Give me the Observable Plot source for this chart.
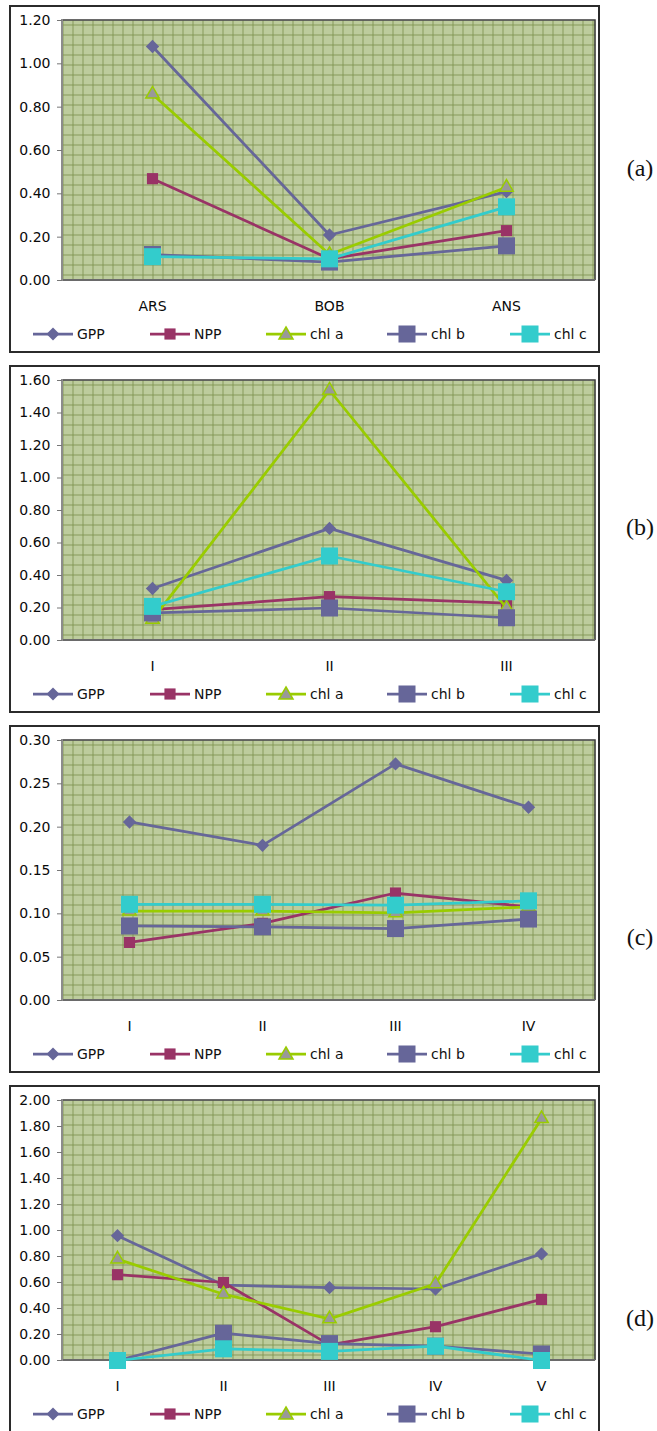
<!DOCTYPE html>
<html>
<head>
<meta charset="utf-8">
<script src="https://cdn.jsdelivr.net/npm/d3@7"></script>
<script src="https://cdn.jsdelivr.net/npm/@observablehq/plot@0.6"></script>
<style>
  html, body { margin: 0; padding: 0; background: #fff; }
  #page { position: relative; width: 657px; height: 1431px; overflow: hidden; background: #fff;
          font-family: "DejaVu Sans", Verdana, sans-serif; color: #111; }
  .box { position: absolute; left: 9px; width: 591px; height: 348px; box-sizing: border-box;
         border: 2px solid #2b2b2b; background: #fff; }
  .chart { position: absolute; left: 0; }
  .legend { position: absolute; left: 0; width: 600px; height: 20px; }
  .legend .item { position: absolute; top: 0; height: 20px; display: flex; align-items: center;
                  font-size: 14px; white-space: nowrap; }
  .legend svg { display: block; margin-right: 4px; }
  .tag { position: absolute; left: 620px; width: 40px; text-align: center;
         font-family: "Liberation Serif", "Times New Roman", serif; font-size: 24px; line-height: 24px; color: #111; }
</style>
</head>
<body>
<svg width="0" height="0" style="position:absolute">
  <defs>
    <pattern id="dither" width="2" height="2" patternUnits="userSpaceOnUse">
      <rect width="2" height="2" fill="#c6d3a7"/>
      <rect width="1" height="1" fill="#b4c493"/>
      <rect x="1" y="1" width="1" height="1" fill="#b4c493"/>
    </pattern>
    <pattern id="excelGrid" x="2" y="4" width="10" height="10" patternUnits="userSpaceOnUse">
      <rect width="10" height="10" fill="url(#dither)"/>
      <path d="M0 0.5H10M0.5 0V10" stroke="#879b5a" stroke-width="1"/>
    </pattern>
  </defs>
</svg>
<div id="page"></div>
<script>
// Series shown in every panel
const seriesNames = ["GPP", "NPP", "chl a", "chl b", "chl c"];

// (a) regions
const catsA = ["ARS", "BOB", "ANS"];
const gppA  = [1.08, 0.21, 0.41];
const nppA  = [0.47, 0.10, 0.23];
const chlaA = [0.86, 0.12, 0.43];
const chlbA = [0.12, 0.085, 0.16];
const chlcA = [0.11, 0.10, 0.34];

// (b) stations
const catsB = ["I", "II", "III"];
const gppB  = [0.32, 0.69, 0.37];
const nppB  = [0.19, 0.27, 0.23];
const chlaB = [0.13, 1.54, 0.20];
const chlbB = [0.17, 0.20, 0.14];
const chlcB = [0.21, 0.52, 0.30];

// (c) stations
const catsC = ["I", "II", "III", "IV"];
const gppC  = [0.206, 0.179, 0.273, 0.223];
const nppC  = [0.067, 0.089, 0.124, 0.108];
const chlaC = [0.103, 0.103, 0.101, 0.108];
const chlbC = [0.086, 0.085, 0.083, 0.094];
const chlcC = [0.111, 0.111, 0.110, 0.115];

// (d) stations
const catsD = ["I", "II", "III", "IV", "V"];
const gppD  = [0.96, 0.58, 0.56, 0.55, 0.82];
const nppD  = [0.66, 0.60, 0.12, 0.26, 0.47];
const chlaD = [0.78, 0.51, 0.32, 0.59, 1.86];
const chlbD = [0.00, 0.21, 0.13, 0.11, 0.05];
const chlcD = [0.00, 0.09, 0.07, 0.11, 0.00];

// y-axis extents and tick steps
const yMaxes = [1.2, 1.6, 0.3, 2.0];
const ySteps = [0.2, 0.2, 0.05, 0.2];
const panelTags = ["(a)", "(b)", "(c)", "(d)"];

// Line/marker styling per series
const styles = [
  {color: "#666699", symbol: "diamond2", r: 6.0, fill: "#666699", stroke: "none"},
  {color: "#993366", symbol: "square",   r: 6.3, fill: "#993366", stroke: "none"},
  {color: "#99cc00", symbol: "triangle", r: 5.0, fill: "#999999", stroke: "#99cc00"},
  {color: "#666699", symbol: "square",   r: 9.6, fill: "#666699", stroke: "none"},
  {color: "#33cccc", symbol: "square",   r: 9.6, fill: "#33cccc", stroke: "none"}
];

const panels = [
  {cats: catsA, values: [gppA, nppA, chlaA, chlbA, chlcA]},
  {cats: catsB, values: [gppB, nppB, chlaB, chlbB, chlcB]},
  {cats: catsC, values: [gppC, nppC, chlaC, chlbC, chlcC]},
  {cats: catsD, values: [gppD, nppD, chlaD, chlbD, chlcD]}
];

const page = document.getElementById("page");
const plotTop0 = 19.5, pitch = 360, plotH = 260, mTop = 10, mBottom = 40;
const tagY = [168, 527, 937, 1318];
const legendX = [33, 150, 266, 387, 510];

// Plot-area border: dark top/right edges, gray value axis, darker category axis
function plotBorder(...args) {
  const dims = args.find(a => a && a.marginLeft !== undefined && a.width !== undefined);
  const x0 = dims.marginLeft, x1 = dims.width - dims.marginRight;
  const y0 = dims.marginTop, y1 = dims.height - dims.marginBottom;
  const g = d3.create("svg:g").attr("fill", "none");
  g.append("path").attr("d", `M${x0},${y0}H${x1}V${y1}`).attr("stroke", "#3a3a3a").attr("stroke-width", 1.5);
  g.append("line").attr("x1", x0).attr("x2", x1).attr("y1", y1).attr("y2", y1)
    .attr("stroke", "#6a6a6a").attr("stroke-width", 2);
  g.append("line").attr("x1", x0).attr("x2", x0).attr("y1", y0 - 1).attr("y2", y1 + 1)
    .attr("stroke", "#8c8c8c").attr("stroke-width", 2);
  return g.node();
}

function swatch(st) {
  const w = 40, h = 20, cx = 20, cy = 10;
  let marker = "";
  if (st.symbol === "diamond2") {
    marker = `<path d="M${cx},${cy - 6.5}L${cx + 6.5},${cy}L${cx},${cy + 6.5}L${cx - 6.5},${cy}Z" fill="${st.fill}"/>`;
  } else if (st.symbol === "triangle") {
    marker = `<path d="M${cx},${cy - 7}L${cx + 7},${cy + 5}L${cx - 7},${cy + 5}Z" fill="${st.fill}" stroke="${st.stroke}" stroke-width="1.5"/>`;
  } else {
    const s = st.r * Math.sqrt(Math.PI);
    marker = `<rect x="${cx - s / 2}" y="${cy - s / 2}" width="${s}" height="${s}" fill="${st.fill}"/>`;
  }
  return `<svg width="${w}" height="${h}"><line x1="0" x2="${w}" y1="${cy}" y2="${cy}" stroke="${st.color}" stroke-width="2.75"/>${marker}</svg>`;
}

panels.forEach((p, k) => {
  const plotTop = plotTop0 + k * pitch;

  const box = document.createElement("div");
  box.className = "box";
  box.style.top = (plotTop - 14.5) + "px";
  page.appendChild(box);

  const data = seriesNames.flatMap((name, s) =>
    p.cats.map((c, i) => ({series: name, cat: c, value: p.values[s][i]})));

  const ymax = yMaxes[k], step = ySteps[k];
  const ticks = d3.range(0, ymax + step / 2, step);

  const chart = Plot.plot({
    width: 600,
    height: mTop + plotH + mBottom,
    marginLeft: 62,
    marginRight: 5,
    marginTop: mTop,
    marginBottom: mBottom,
    style: {fontFamily: "DejaVu Sans, Verdana, sans-serif", fontSize: "14px", color: "#0a0a0a",
            background: "transparent", overflow: "visible"},
    x: {type: "point", domain: p.cats, padding: 0.5, label: null},
    y: {domain: [0, ymax], nice: false, label: null},
    marks: [
      Plot.frame({fill: "url(#excelGrid)"}),
      plotBorder,
      Plot.axisY({ticks, tickFormat: d3.format(".2f"), tickSize: 5, tickPadding: 7, stroke: "#777", label: null}),
      Plot.axisX({tickSize: 0, tickPadding: 21, label: null}),
      ...seriesNames.flatMap((name, s) => {
        const st = styles[s];
        const rows = data.filter(d => d.series === name);
        return [
          Plot.line(rows, {x: "cat", y: "value", stroke: st.color, strokeWidth: 2.75}),
          Plot.dot(rows, {x: "cat", y: "value", symbol: st.symbol, r: st.r, fill: st.fill,
                          stroke: st.stroke, strokeWidth: 1.5})
        ];
      })
    ]
  });
  chart.classList.add("chart");
  chart.style.top = (plotTop - mTop) + "px";
  page.appendChild(chart);

  const legend = document.createElement("div");
  legend.className = "legend";
  legend.style.top = (plotTop + plotH + 54 - 10) + "px";
  legend.innerHTML = seriesNames.map((name, s) =>
    `<div class="item" style="left:${legendX[s]}px">${swatch(styles[s])}<span>${name}</span></div>`).join("");
  page.appendChild(legend);

  const tag = document.createElement("div");
  tag.className = "tag";
  tag.style.top = (tagY[k] - 12) + "px";
  tag.textContent = panelTags[k];
  page.appendChild(tag);
});
</script>
</body>
</html>
